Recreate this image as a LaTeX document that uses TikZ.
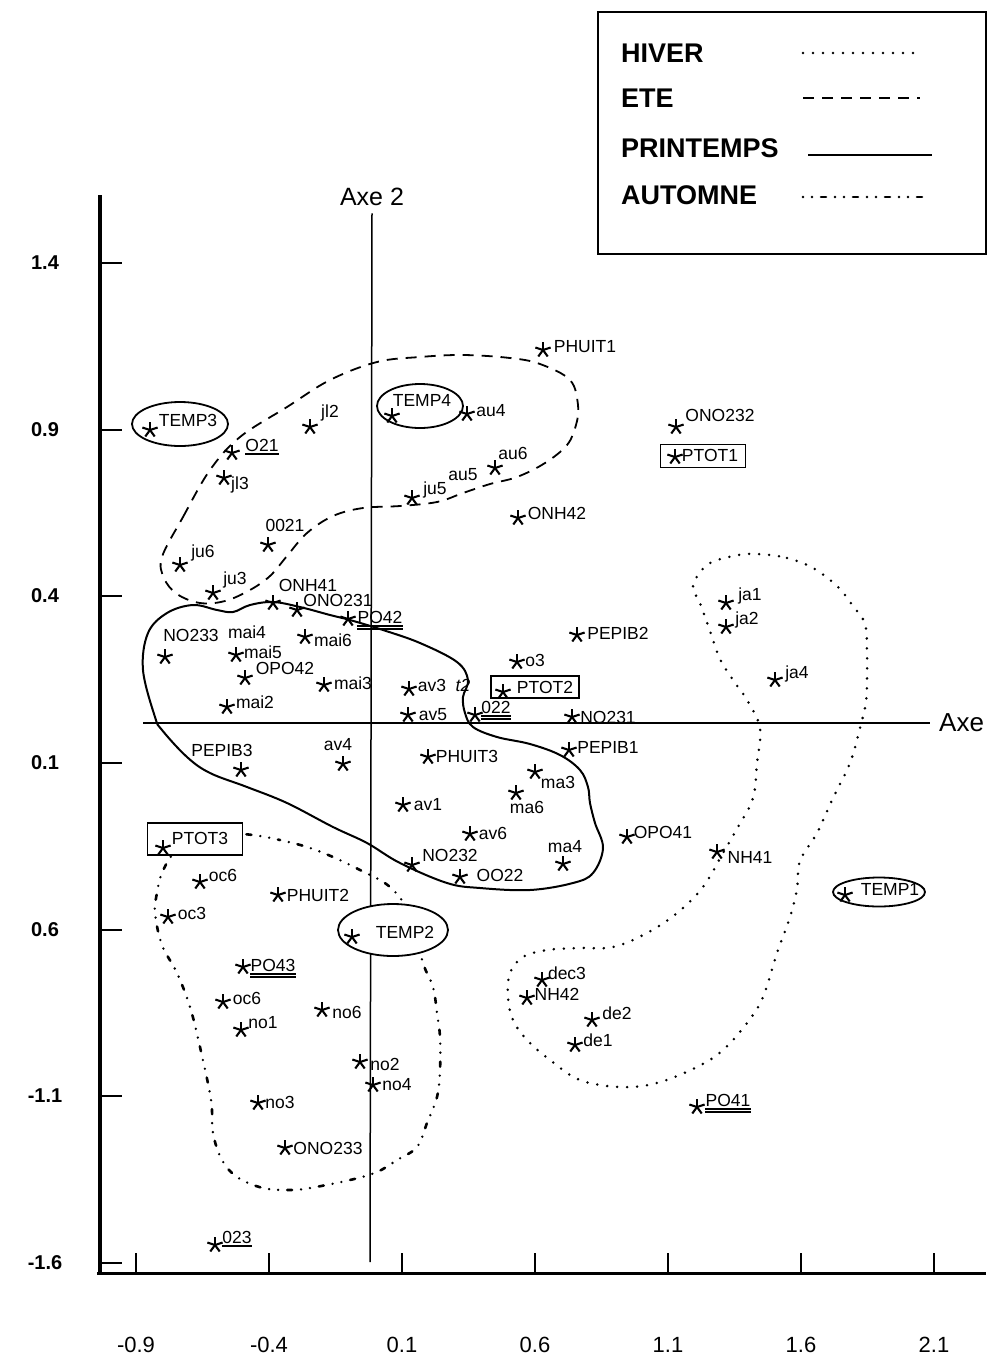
\documentclass[tikz,border=0pt]{standalone}
\usepackage{fontspec}
\setmainfont{Liberation Sans}
\usetikzlibrary{shapes.geometric}

\tikzset{
	etoile/.style={line width=2.1pt},
	lbl/.style={font=\fontsize{17.5}{17.5}\selectfont, inner sep=0pt},
	ete/.style={line width=1.8pt, dash pattern=on 11pt off 8pt},
	hiver/.style={line width=2.8pt, line cap=round, dash pattern=on 0pt off 10pt},
	printemps/.style={line width=2pt},
	automne/.style={line width=2.6pt, line cap=round, dash pattern=on 0pt off 9pt on 0pt off 9pt on 5pt off 9pt},
	axe/.style={line width=1.5pt},
	cadre/.style={draw, line width=1.8pt, fill=white, inner sep=0pt},
	temp/.style={draw, ellipse, line width=1.8pt, fill=white, inner sep=0pt},
}

\begin{document}
\begin{tikzpicture}[x=1pt, y=-1pt]
	\newcommand\bas{1273};
	\newcommand\gauche{100};

	\fill[white] (0,0) rectangle (990,1361);
	\useasboundingbox (0,0) rectangle (990,1361);

	% legende
	\node[draw, line width=1.2pt, minimum width=388pt, minimum height=242pt] (leg) at (792,133) {};
	\foreach \y/\nom in {53/HIVER, 98/ETE, 148/PRINTEMPS, 195/AUTOMNE} {
		\node[anchor=west, inner sep=0pt, font=\fontsize{27}{27}\selectfont\bfseries] (leg\nom) at (621,\y) {\nom};
	}
	\draw[hiver] (803,53) -- (920,53);
	\draw[ete] (803,98) -- (920,98);
	\draw[printemps] (808,155) -- (932,155);
	\draw[automne] (803,197) -- (922,197);

	% contours des saisons
	\draw[ete] plot[smooth cycle, tension=0.6] coordinates {
		(162,557) (183,517) (210,470) (240,437) (287,407) (330,380) (377,362) (420,357)
		(463,355) (510,358) (540,364) (570,380) (578,405) (576,425) (567,445) (545,463)
		(517,477) (490,484) (463,493) (437,502) (400,506) (363,508) (333,516) (307,533)
		(287,556) (270,576) (250,590) (225,601) (200,603) (177,594) (164,578)};
	\draw[printemps] plot[smooth cycle, tension=0.6] coordinates {
		(155,717) (143,670) (148,633) (167,613) (193,605) (217,610) (233,612) (250,605)
		(273,602) (300,607) (330,615) (350,620) (383,630) (420,643) (457,662) (468,680)
		(463,697) (465,713) (473,727) (497,737) (530,744) (560,755) (580,770) (588,787)
		(590,803) (595,823) (603,848) (593,873) (573,883) (530,890) (480,888) (447,883)
		(400,863) (367,843) (333,827) (287,803) (247,787) (210,773) (187,757) (162,730)};
	\draw[hiver] plot[smooth cycle, tension=0.6] coordinates {
		(757,554) (787,558) (813,568) (837,586) (853,606) (865,624) (867,652) (867,680)
		(866,702) (860,728) (850,763) (833,798) (817,833) (800,861) (797,889) (790,917)
		(777,953) (763,997) (747,1023) (723,1050) (697,1067) (657,1083) (620,1087) (580,1080)
		(550,1060) (527,1040) (513,1020) (508,997) (510,973) (523,957) (547,950) (580,948)
		(613,947) (647,933) (677,913) (703,887) (723,853) (738,827) (753,798) (757,763)
		(760,728) (747,700) (733,680) (720,659) (710,631) (700,603) (693,586) (707,565) (733,556)};
	\draw[automne] plot[smooth cycle, tension=0.6] coordinates {
		(253,835) (280,840) (307,847) (333,857) (360,870) (390,887) (410,915) (423,963)
		(433,987) (437,1013) (440,1037) (440,1070) (437,1097) (427,1123) (417,1147) (397,1160)
		(377,1172) (350,1180) (310,1188) (290,1190) (263,1188) (237,1177) (222,1160) (213,1133)
		(211,1100) (200,1047) (190,1007) (177,973) (162,945) (155,913) (157,893) (162,873)
		(175,852) (200,838) (230,834)};

	% axes
	\draw[line width=3.5pt] (\gauche,195) -- (\gauche,\bas+2);
	\draw[line width=3pt] (97,\bas) -- (986,\bas);
	\foreach \y/\t in {263/1.4, 430/0.9, 596/0.4, 763/0.1, 930/0.6, 1096/-1.1, 1263/-1.6} {
		\draw[line width=2pt] (\gauche,\y) -- (122,\y);
		\node[font=\fontsize{20}{20}\selectfont\bfseries] (ty\y) at (45,\y) {\t};
	}
	\foreach \x/\t in {136/-0.9, 269/-0.4, 402/0.1, 535/0.6, 668/1.1, 801/1.6, 934/2.1} {
		\draw[line width=2.2pt] (\x,\bas) -- (\x,1253);
		\node[font=\fontsize{22}{22}\selectfont] (tx\x) at (\x,1345) {\t};
	}
	\node[font=\fontsize{25}{25}\selectfont] (axe2) at (372,197) {Axe 2};
	\node[anchor=west, inner sep=0pt, font=\fontsize{26}{26}\selectfont] (axe1) at (939,723) {Axe};
	\draw[axe] (axe2.south) ++(0,-4pt) -- (370,1262);
	\draw[axe] (143,723) -- ([xshift=-9pt]axe1.west);

	% cadres et ellipses
	\node[temp, minimum width=96pt, minimum height=44pt] (e3) at (180,424) {};
	\node[temp, minimum width=86pt, minimum height=44pt] (e4) at (420,406) {};
	\node[temp, minimum width=110pt, minimum height=52pt] (e2) at (393,930) {};
	\node[temp, minimum width=92pt, minimum height=29pt] (e1) at (879,892) {};
	\node[cadre, minimum width=88pt, minimum height=22pt] (c2) at (535,687) {};
	\node[cadre, minimum width=85pt, minimum height=23pt] (c1) at (703,456) {};
	\node[cadre, minimum width=95pt, minimum height=32pt] (c3) at (195,839) {};

	% releves
	\foreach \sx/\sy/\lx/\ly/\txt [count=\i] in {
		543/350/585/347/PHUIT1, 392/416/422/400/TEMP4, 467/414/491/411/au4,
		495/468/513/453/au6, 412/498/435/490/ju5, 518/518/557/513/ONH42,
		150/430/188/420/TEMP3, 310/427/330/413/jl2, 224/478/240/485/jl3,
		268/545/285/525/0021, 180/565/203/553/ju6, 213/593/235/580/ju3,
		273/603/308/585/ONH41, 297/610/338/600/ONO231, 165/657/191/635/NO233,
		236/655/263/652/mai5, 305/637/333/640/mai6, 245/678/285/668/OPO42,
		324/685/353/683/mai3, 227/707/255/702/mai2, 241/770/222/750/PEPIB3,
		343/764/338/745/av4, 577/635/618/633/PEPIB2, 517/662/535/660/o3,
		503/692/545/687/PTOT2, 409/689/432/685/av3, 408/715/433/715/av5,
		572/717/608/717/NO231, 569/750/608/747/PEPIB1, 428/757/467/756/PHUIT3,
		535/772/558/782/ma3, 516/793/527/807/ma6, 403/805/428/805/av1,
		470/834/493/833/av6, 563/864/565/847/ma4, 627/837/663/832/OPO41,
		412/865/450/855/NO232, 717/852/750/857/NH41, 460/877/500/875/OO22,
		542/980/567/973/dec3, 527/998/557/994/NH42, 592/1020/617/1013/de2,
		575/1045/598/1040/de1, 676/427/720/415/ONO232, 675/457/710/455/PTOT1,
		726/603/750/596/ja1, 726/627/747/620/ja2, 775/680/797/674/ja4,
		845/895/890/889/TEMP1, 163/848/200/838/PTOT3, 200/882/223/875/oc6,
		278/895/318/895/PHUIT2, 168/917/192/913/oc3, 352/937/405/932/TEMP2,
		223/1002/247/998/oc6, 241/1030/263/1023/no1, 322/1010/347/1012/no6,
		360/1062/385/1064/no2, 373/1085/397/1085/no4, 258/1103/280/1102/no3,
		285/1148/328/1148/ONO233} {
		\coordinate (s\i) at (\sx,\sy);
		\foreach \a in {90,162,...,378} \draw[etoile] (s\i) -- ++(\a:8pt);
		\node[lbl] (l\i) at (\lx,\ly) {\txt};
	}
	\node[lbl] (au5) at (463,475) {au5};
	\node[lbl] (mai4) at (247,632) {mai4};
	\node[lbl, font=\fontsize{17.5}{17.5}\selectfont\itshape] (t2) at (463,685) {t2};

	% souligne simple
	\foreach \sx/\sy/\lx/\ly/\txt [count=\i] in {232/453/262/445/O21, 215/1245/237/1237/023} {
		\coordinate (su\i) at (\sx,\sy);
		\foreach \a in {90,162,...,378} \draw[etoile] (su\i) -- ++(\a:8pt);
		\node[lbl] (u\i) at (\lx,\ly) {\txt};
		\draw[line width=2pt] ([yshift=-3pt]u\i.south west) -- ([yshift=-3pt]u\i.south east);
	}
	% souligne double
	\foreach \sx/\sy/\lx/\ly/\txt [count=\i] in {348/619/380/617/PO42, 475/715/496/707/022,
		243/967/273/965/PO43, 697/1107/728/1100/PO41} {
		\coordinate (sd\i) at (\sx,\sy);
		\foreach \a in {90,162,...,378} \draw[etoile] (sd\i) -- ++(\a:8pt);
		\node[lbl] (d\i) at (\lx,\ly) {\txt};
		\draw[line width=1.3pt] ([yshift=-2.5pt]d\i.south west) -- ([yshift=-2.5pt]d\i.south east);
		\draw[line width=1.3pt] ([yshift=-5.5pt]d\i.south west) -- ([yshift=-5.5pt]d\i.south east);
	}
\end{tikzpicture}
\end{document}
